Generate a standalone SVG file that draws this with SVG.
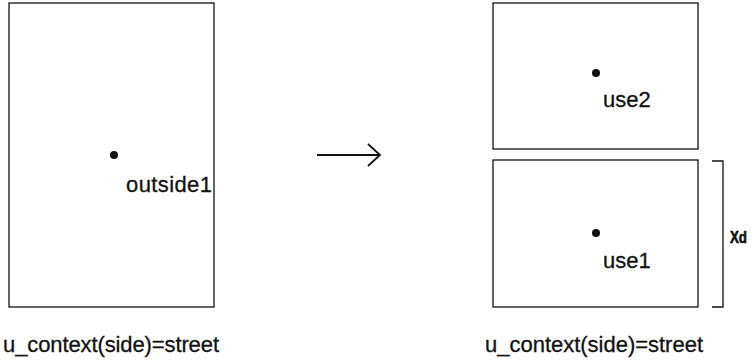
<svg xmlns="http://www.w3.org/2000/svg" width="752" height="362" viewBox="0 0 752 362">
<style>
.box{fill:none;stroke:#111;stroke-width:1.3}
.ln{fill:none;stroke:#111;stroke-width:1.8}
.t{font-family:"Liberation Sans",Arial,sans-serif;font-size:22px;fill:#111;stroke:#111;stroke-width:0.3}
.dim{font-family:"Liberation Sans",Arial,sans-serif;font-size:16px;font-weight:bold;fill:#111;stroke:#111;stroke-width:0.6}
</style>
<rect width="752" height="362" fill="#fff"/>
<g id="left-region">
<rect class="box" x="9" y="3" width="205" height="304"/>
<circle cx="114" cy="155" r="4" fill="#111"/>
<text class="t" x="126" y="192" textLength="86">outside1</text>
</g>
<g id="right-top-region">
<rect class="box" x="493" y="3" width="205" height="146"/>
<circle cx="596" cy="73" r="4" fill="#111"/>
<text class="t" x="603" y="107">use2</text>
</g>
<g id="right-bottom-region">
<rect class="box" x="493" y="160" width="205" height="147"/>
<circle cx="596" cy="233" r="4" fill="#111"/>
<text class="t" x="603" y="268">use1</text>
</g>
<g id="dimension">
<path class="box" d="M712 161 H723 V307 H712"/>
<text class="dim" x="730" y="243" textLength="17" lengthAdjust="spacingAndGlyphs">Xd</text>
</g>
<g id="connectors">
<path class="ln" d="M317 155 H380 M368 144 L380 155 L368 166"/>
</g>
<text class="t" x="3" y="352" textLength="216">u_context(side)=street</text>
<text class="t" x="485" y="352" textLength="218">u_context(side)=street</text>
</svg>
